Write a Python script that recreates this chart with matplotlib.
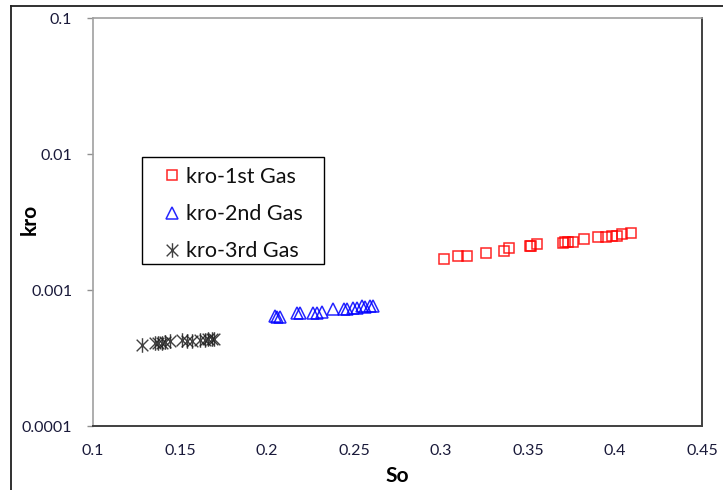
import matplotlib
matplotlib.use("Agg")
import matplotlib.pyplot as plt
from matplotlib.path import Path
from matplotlib.lines import Line2D
from matplotlib.patches import Rectangle
from matplotlib.ticker import FixedLocator, FixedFormatter, NullLocator

plt.rcParams['font.family'] = ['Lato', 'DejaVu Sans']

# Oil saturation and oil relative permeability for each gas injection stage
so_1st = [0.302, 0.310, 0.315, 0.326, 0.336, 0.339, 0.351, 0.355, 0.352,
          0.370, 0.371, 0.373, 0.376, 0.382, 0.390, 0.395, 0.401, 0.398,
          0.404, 0.409]
kro_1st = [0.00169, 0.00178, 0.00178, 0.00186, 0.00195, 0.00203, 0.00212,
           0.00217, 0.00212, 0.00222, 0.00225, 0.00226, 0.00226, 0.00236,
           0.00247, 0.00244, 0.00248, 0.00250, 0.00258, 0.00264]

so_2nd = [0.2046, 0.2059, 0.2075, 0.2171, 0.2190, 0.2266, 0.2289, 0.2316,
          0.2381, 0.2443, 0.2458, 0.2496, 0.2516, 0.2544, 0.2563, 0.2592,
          0.2607]
kro_2nd = [0.000644, 0.000637, 0.000637, 0.000675, 0.000675, 0.000675,
           0.000683, 0.000690, 0.000719, 0.000724, 0.000724, 0.000741,
           0.000735, 0.000759, 0.000752, 0.000767, 0.000760]

so_3rd = [0.1280, 0.1356, 0.1375, 0.1395, 0.1414, 0.1443, 0.1510, 0.1538,
          0.1567, 0.1615, 0.1644, 0.1663, 0.1682, 0.1695]
kro_3rd = [0.000394, 0.000410, 0.000410, 0.000410, 0.000414, 0.000420,
           0.000426, 0.000422, 0.000422, 0.000426, 0.000426, 0.000434,
           0.000434, 0.000434]

x_ticks = [0.1, 0.15, 0.2, 0.25, 0.3, 0.35, 0.4, 0.45]
x_labels = ["0.1", "0.15", "0.2", "0.25", "0.3", "0.35", "0.4", "0.45"]
y_ticks = [0.0001, 0.001, 0.01, 0.1]
y_labels = ["0.0001", "0.001", "0.01", "0.1"]

W, H = 723, 490

# Asterisk marker: an X crossed by a vertical stroke
star = Path([(-1, -1), (1, 1), (-1, 1), (1, -1), (0, -1.25), (0, 1.25)],
            [Path.MOVETO, Path.LINETO, Path.MOVETO, Path.LINETO,
             Path.MOVETO, Path.LINETO])

fig = plt.figure(figsize=(W / 100, H / 100), dpi=100)
ax = fig.add_axes([93 / W, 1 - 426 / H, (702 - 93) / W, (426 - 18) / H])

ax.plot(so_1st, kro_1st, linestyle='none', marker='s', markersize=7.2,
        markerfacecolor='none', markeredgecolor='#FF0000', markeredgewidth=1.1,
        alpha=0.85, label='kro-1st Gas')
ax.plot(so_2nd, kro_2nd, linestyle='none', marker='^', markersize=8,
        markerfacecolor='none', markeredgecolor='#0000FF', markeredgewidth=1.1,
        alpha=0.85, label='kro-2nd Gas')
ax.plot(so_3rd, kro_3rd, linestyle='none', marker=star, markersize=10.5,
        markerfacecolor='none', markeredgecolor='#202020', markeredgewidth=1.0,
        alpha=0.85, label='kro-3rd Gas')

ax.set_yscale('log')
ax.set_xlim(0.1, 0.45)
ax.set_ylim(0.0001, 0.1)

ax.xaxis.set_major_locator(FixedLocator(x_ticks))
ax.xaxis.set_major_formatter(FixedFormatter(x_labels))
ax.yaxis.set_major_locator(FixedLocator(y_ticks))
ax.yaxis.set_major_formatter(FixedFormatter(y_labels))
ax.yaxis.set_minor_locator(NullLocator())
ax.xaxis.set_minor_locator(NullLocator())

ax.tick_params(axis='x', length=0, pad=13, labelsize=11.5, labelcolor='#1a1a3a')
ax.tick_params(axis='y', length=4, width=1, color='#909090', direction='out',
               pad=11, labelsize=11.5, labelcolor='#1a1a3a')

for side in ('left', 'top'):
    ax.spines[side].set_color('#A0A0A0')
    ax.spines[side].set_linewidth(1.2)
for side in ('right', 'bottom'):
    ax.spines[side].set_color('#404040')
    ax.spines[side].set_linewidth(1.4)

ax.set_xlabel('So', fontsize=15, fontweight='bold', labelpad=6)
ax.set_ylabel('kro', fontsize=15, fontweight='bold')
ax.yaxis.set_label_coords((40 - 93) / 609, (426 - 219) / 408)

# Legend entries, with a plain rectangular frame drawn around them
leg = ax.legend(loc='upper left',
                bbox_to_anchor=(164 / W, 1 - 167 / H),
                bbox_transform=fig.transFigure,
                fontsize=15.5, frameon=False, borderpad=0,
                labelspacing=0.8, handlelength=0.7, handletextpad=0.3,
                borderaxespad=0)
for txt in leg.get_texts():
    txt.set_color('#101010')
fig.add_artist(Rectangle((142 / W, 1 - 264 / H), (324 - 142) / W, (264 - 157) / H,
                         transform=fig.transFigure, facecolor='none',
                         edgecolor='#000000', linewidth=1.0, zorder=5))

# Outer chart-area border
fig.add_artist(Line2D([11 / W, 1.0], [1 - 6 / H, 1 - 6 / H],
                      transform=fig.transFigure, color='#202020', linewidth=1.3))
fig.add_artist(Line2D([11 / W, 11 / W], [0.0, 1 - 6 / H],
                      transform=fig.transFigure, color='#202020', linewidth=1.3))

fig.savefig('out.png', dpi=100)
